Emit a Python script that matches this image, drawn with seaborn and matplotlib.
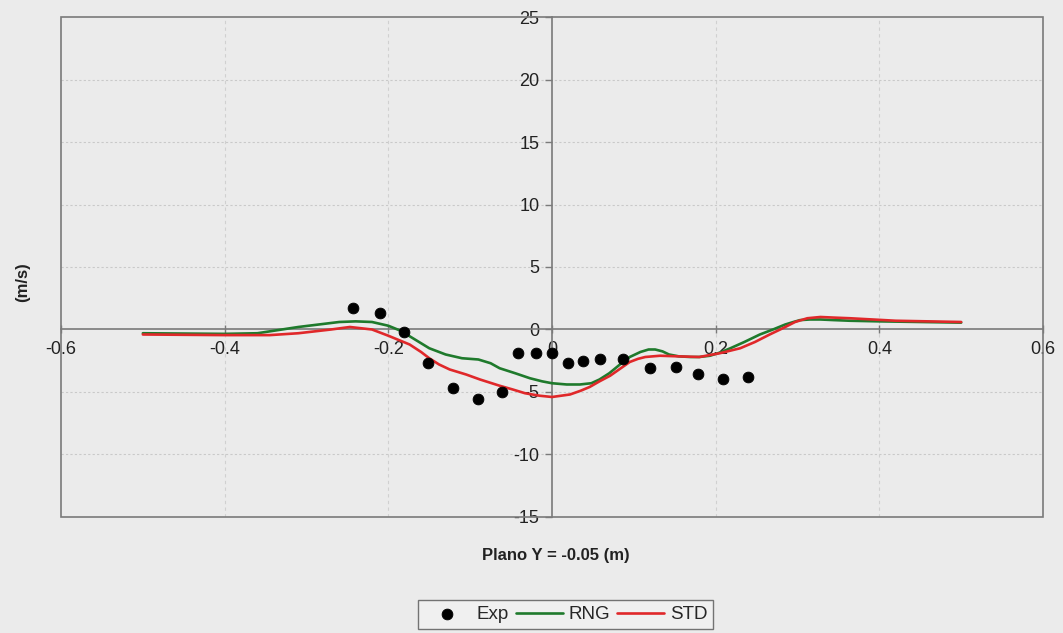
import matplotlib
matplotlib.use("Agg")
import matplotlib.pyplot as plt
import seaborn as sns
import pandas as pd
from matplotlib.patches import Rectangle

# Experimental velocity profile
exp_x = [-0.243, -0.210, -0.181, -0.152, -0.121, -0.090, -0.061, -0.042, -0.020,
         0.000, 0.020, 0.038, 0.059, 0.087, 0.120, 0.151, 0.178, 0.209, 0.240]
exp_v = [1.7, 1.3, -0.2, -2.7, -4.7, -5.6, -5.0, -1.9, -1.9,
         -1.9, -2.7, -2.5, -2.4, -2.4, -3.1, -3.0, -3.6, -4.0, -3.8]

# RNG turbulence model
rng_x = [-0.50, -0.40, -0.36, -0.34, -0.31, -0.285, -0.26, -0.24, -0.22, -0.20, -0.185,
         -0.17, -0.15, -0.13, -0.11, -0.09, -0.075, -0.064, -0.045, -0.027, -0.012,
         0.0, 0.018, 0.034, 0.048, 0.058, 0.07, 0.083, 0.095, 0.108, 0.118, 0.126,
         0.135, 0.143, 0.155, 0.169, 0.18, 0.193, 0.205, 0.218, 0.235, 0.254, 0.27,
         0.285, 0.295, 0.303, 0.315, 0.328, 0.345, 0.364, 0.40, 0.45, 0.50]
rng_v = [-0.3, -0.35, -0.3, -0.1, 0.2, 0.4, 0.6, 0.65, 0.6, 0.3, -0.1,
         -0.7, -1.5, -2.0, -2.3, -2.4, -2.7, -3.1, -3.5, -3.9, -4.15,
         -4.3, -4.4, -4.4, -4.3, -4.0, -3.5, -2.8, -2.2, -1.8, -1.6, -1.6,
         -1.75, -2.0, -2.15, -2.2, -2.2, -2.1, -1.85, -1.5, -1.0, -0.4, 0.0,
         0.4, 0.6, 0.75, 0.8, 0.8, 0.75, 0.7, 0.65, 0.6, 0.55]

# Standard k-epsilon model
std_x = [-0.50, -0.40, -0.345, -0.31, -0.29, -0.27, -0.247, -0.22, -0.20, -0.187,
         -0.174, -0.16, -0.15, -0.138, -0.125, -0.105, -0.088, -0.064, -0.048, -0.033,
         -0.015, 0.0, 0.022, 0.035, 0.046, 0.058, 0.071, 0.083, 0.095, 0.105, 0.114,
         0.132, 0.155, 0.18, 0.205, 0.23, 0.248, 0.266, 0.282, 0.297, 0.312, 0.328,
         0.345, 0.364, 0.42, 0.50]
std_v = [-0.4, -0.45, -0.45, -0.3, -0.15, 0.0, 0.2, 0.0, -0.5, -0.85,
         -1.2, -1.8, -2.3, -2.8, -3.2, -3.6, -4.0, -4.5, -4.8, -5.1,
         -5.3, -5.4, -5.2, -4.9, -4.6, -4.15, -3.7, -3.15, -2.6, -2.35, -2.2,
         -2.1, -2.15, -2.2, -1.9, -1.5, -1.0, -0.4, 0.1, 0.6, 0.9, 1.0,
         0.95, 0.9, 0.7, 0.6]

x_ticks = [-0.6, -0.4, -0.2, 0, 0.2, 0.4, 0.6]
x_labels = ["-0.6", "-0.4", "-0.2", "0", "0.2", "0.4", "0.6"]
y_ticks = [-15, -10, -5, 0, 5, 10, 15, 20, 25]

sns.set_theme(style="white")
plt.rcParams["font.family"] = ["Liberation Sans", "DejaVu Sans"]
plt.rcParams["axes.unicode_minus"] = False

bg = "#ebebeb"
fig = plt.figure(figsize=(10.63, 6.33), dpi=100, facecolor=bg)
ax = fig.add_axes([0.0574, 0.1833, 0.9238, 0.7898])
ax.set_facecolor(bg)

ax.set_xlim(-0.6, 0.6)
ax.set_ylim(-15, 25)

# faint gridlines
for yv in y_ticks:
    if yv not in (0, 25, -15):
        ax.axhline(yv, color="#c9c9c9", lw=0.8, ls=(0, (2, 2)), zorder=0)
for xv in x_ticks:
    if xv not in (0, -0.6, 0.6):
        ax.axvline(xv, color="#d0d0d0", lw=0.8, ls=(0, (3, 3)), zorder=0)

# plot area frame
ax.add_patch(Rectangle((0, 0), 1, 1, transform=ax.transAxes, fill=False,
                       edgecolor="#7a7a7a", lw=1.2, zorder=1, clip_on=False))

# central axes through the origin
for side in ("top", "right"):
    ax.spines[side].set_visible(False)
ax.spines["left"].set_position(("data", 0))
ax.spines["bottom"].set_position(("data", 0))
for side in ("left", "bottom"):
    ax.spines[side].set_color("#7a7a7a")
    ax.spines[side].set_linewidth(1.2)

df_rng = pd.DataFrame({"x": rng_x, "v": rng_v})
df_std = pd.DataFrame({"x": std_x, "v": std_v})
df_exp = pd.DataFrame({"x": exp_x, "v": exp_v})

sns.lineplot(data=df_rng, x="x", y="v", ax=ax, color="#1f7a2c", lw=1.9,
             sort=False, estimator=None, label="RNG", zorder=3,
             solid_joinstyle="round")
sns.lineplot(data=df_std, x="x", y="v", ax=ax, color="#e0282a", lw=1.9,
             sort=False, estimator=None, label="STD", zorder=3,
             solid_joinstyle="round")
sns.scatterplot(data=df_exp, x="x", y="v", ax=ax, color="black", s=60,
                marker="o", edgecolor="black", label="Exp", zorder=4)

ax.set_xticks(x_ticks)
ax.set_xticklabels(x_labels)
ax.set_yticks(y_ticks)
ax.tick_params(axis="x", direction="inout", length=6, width=1, color="#7a7a7a",
               labelsize=13, pad=5, bottom=True)
ax.tick_params(axis="y", direction="out", length=5, width=1, color="#7a7a7a",
               labelsize=13, pad=4, left=True)
for lab in ax.get_xticklabels() + ax.get_yticklabels():
    lab.set_color("#222222")

ax.set_xlabel("")
ax.set_ylabel("")
fig.text(0.021, 0.555, "(m/s)", rotation=90, ha="center", va="center",
         fontsize=12, fontweight="bold", color="#222222")
fig.text(0.523, 0.123, "Plano Y = -0.05 (m)", ha="center", va="center",
         fontsize=12, fontweight="bold", color="#222222")

handles, labels = ax.get_legend_handles_labels()
order = [labels.index(n) for n in ("Exp", "RNG", "STD")]
ax.get_legend().remove()
leg = fig.legend([handles[i] for i in order], [labels[i] for i in order],
                 loc="center", bbox_to_anchor=(0.532, 0.029), ncol=3,
                 frameon=True, fancybox=False, edgecolor="#555555",
                 facecolor="#f2f2f2", fontsize=13.5, handlelength=2.5,
                 handletextpad=0.3, columnspacing=0.4, borderpad=0.3)
leg.get_frame().set_linewidth(1.0)

fig.savefig("out.png", dpi=100, facecolor=bg)
